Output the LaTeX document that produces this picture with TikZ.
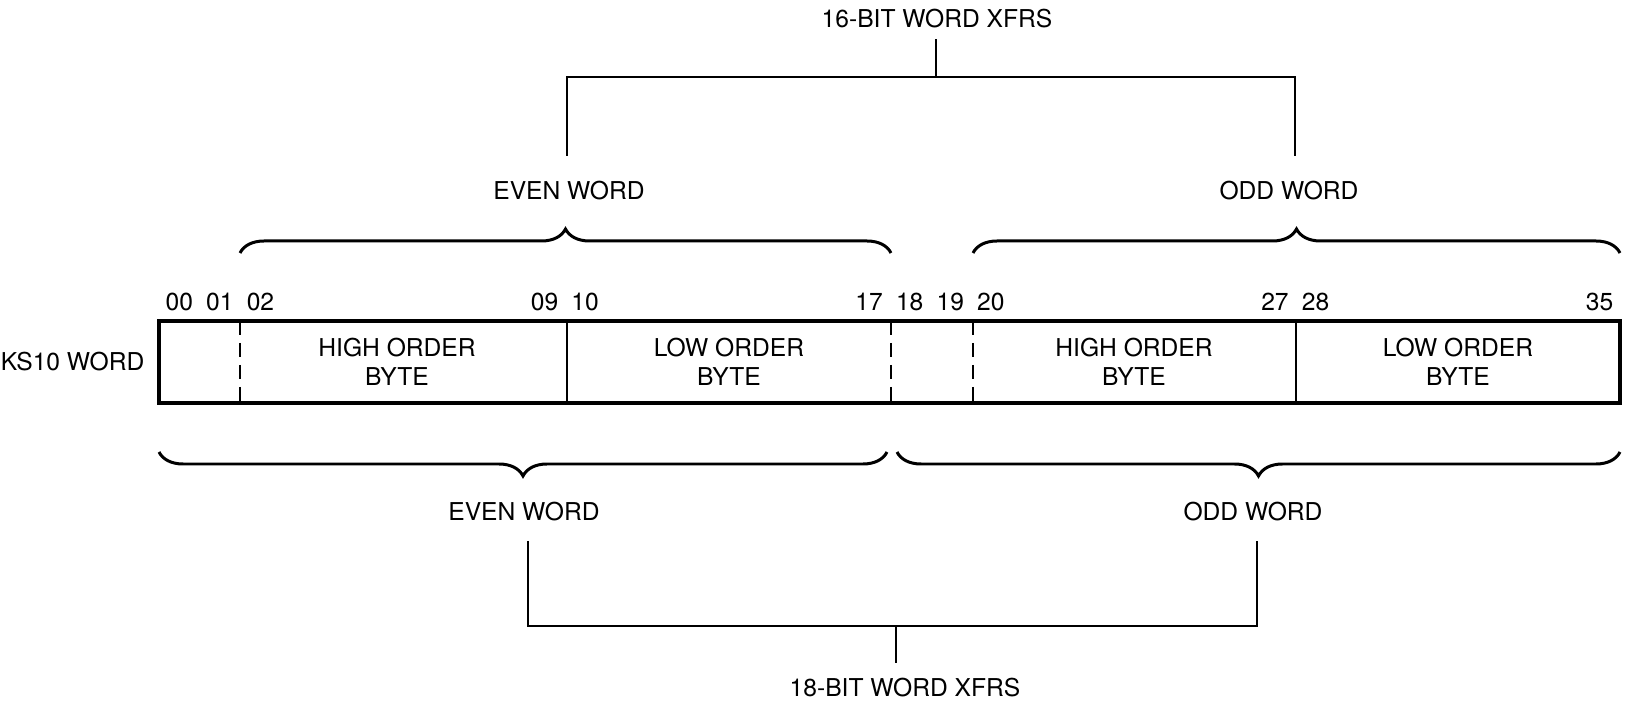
\documentclass[tikz,border=0pt]{standalone}
\usepackage{fontspec}
\setmainfont{TeX Gyre Heros}
\usetikzlibrary{calc,decorations.pathreplacing,positioning}
\tikzset{
    % Text styles
    wordtext/.style={font=\fontsize{14}{16.5}\selectfont, inner sep=3pt},
    bitnum/.style={wordtext},
    bytetext/.style={wordtext, align=center},
}
\tikzset{
    % Line styles
    wordframe/.style={line width=2pt},
    fieldline/.style={line width=1.3pt},
    fielddash/.style={line width=1.3pt, dash pattern=on 2.8mm off 1.6mm},
    wordbrace/.style={line width=1.7pt, decorate,
        decoration={brace, amplitude=4.8mm}},
    xfrline/.style={line width=1.6pt},
}
\begin{document}
\begin{tikzpicture}[x=0.2mm, y=-0.2mm]
  \useasboundingbox (0,0) rectangle (1631,703);
  % field boundaries of the KS10 word
  \foreach \n/\x in {0/159,2/240,10/567,18/891,20/973,28/1296,36/1620} {
    \coordinate (t\n) at (\x,321);
    \coordinate (b\n) at (\x,403);
  }
  \draw[wordframe] (t0) rectangle (b36);
  \draw[fieldline] (t10) -- (b10) (t28) -- (b28);
  \draw[fielddash] (t2) -- (b2) (t18) -- (b18) (t20) -- (b20);
  \node[wordtext,anchor=east] (ks) at (150,362) {KS10 WORD};
  \node[bytetext] (hi1) at (397,362) {HIGH ORDER\\BYTE};
  \node[bytetext] (lo1) at (729,362) {LOW ORDER\\BYTE};
  \node[bytetext] (hi2) at (1134,362) {HIGH ORDER\\BYTE};
  \node[bytetext] (lo2) at (1458,362) {LOW ORDER\\BYTE};
  % bit numbers
  \foreach \n/\lbl in {0/00,1/01,2/02,9/09,10/10,17/17,18/18,19/19,20/20,27/27,28/28,35/35}
    \node[bitnum] (n\lbl) at ({159+40.58*(\n+0.5)},302) {\lbl};
  % 16-bit words
  \draw[wordbrace] (t2 |- 0,253) -- (t18 |- 0,253);
  \draw[wordbrace] (t20 |- 0,253) -- (t36 |- 0,253);
  \node[wordtext] (evenhi) at (569,191) {EVEN WORD};
  \node[wordtext] (oddhi) at (1289,191) {ODD WORD};
  \node[wordtext] (x16) at (937,19) {16-BIT WORD XFRS};
  \coordinate (bar16) at (936,77);
  \coordinate (leg16e) at (567,156);
  \coordinate (leg16o) at (1295,156);
  \draw[xfrline] (leg16e) |- (bar16) -| (leg16o);
  \draw[xfrline,shorten <=1mm] (x16.south -| bar16) -- (bar16);
  % 18-bit words
  \coordinate (eb) at (887,452);
  \coordinate (ob) at (897,452);
  \draw[wordbrace] (eb) -- (b0 |- eb);
  \draw[wordbrace] (b36 |- ob) -- (ob);
  \node[wordtext] (evenlo) at (524,512) {EVEN WORD};
  \node[wordtext] (oddlo) at (1253,512) {ODD WORD};
  \node[wordtext] (x18) at (905,688) {18-BIT WORD XFRS};
  \coordinate (bar18) at (896,626);
  \coordinate (leg18e) at (528,541);
  \coordinate (leg18o) at (1257,541);
  \draw[xfrline] (leg18e) |- (bar18) -| (leg18o);
  \draw[xfrline,shorten >=2mm] (bar18) -- (x18.north -| bar18);
\end{tikzpicture}
\end{document}
